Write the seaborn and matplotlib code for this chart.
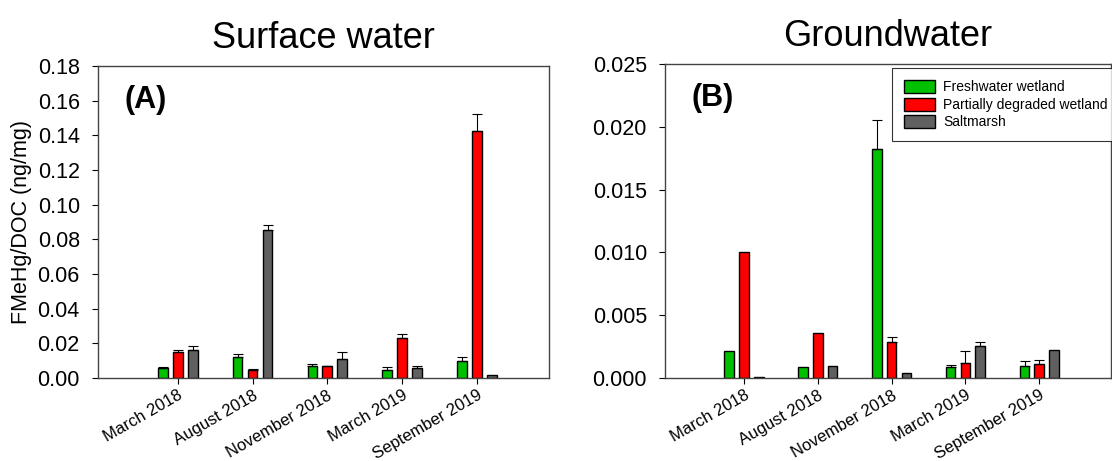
import numpy as np
import pandas as pd
import matplotlib
matplotlib.use("Agg")
import matplotlib.pyplot as plt
import seaborn as sns

months = ["March 2018", "August 2018", "November 2018", "March 2019", "September 2019"]
sites = ["Freshwater wetland", "Partially degraded wetland", "Saltmarsh"]
colors = ["#00C000", "#FF0000", "#606060"]

# Surface water
sw_fresh = [0.0057, 0.0122, 0.0071, 0.0048, 0.0099]
sw_fresh_err = [0.0008, 0.0014, 0.0007, 0.0013, 0.0020]
sw_partial = [0.0149, 0.0048, 0.0067, 0.0233, 0.1423]
sw_partial_err = [0.0010, 0.0002, 0.0002, 0.0021, 0.0102]
sw_salt = [0.0163, 0.0855, 0.0109, 0.0057, 0.0019]
sw_salt_err = [0.0024, 0.0029, 0.0040, 0.0010, 0.0]

# Groundwater
gw_fresh = [0.00212, 0.00087, 0.01826, 0.00087, 0.00095]
gw_fresh_err = [0.0, 0.0, 0.00227, 0.00013, 0.00037]
gw_partial = [0.0100, 0.00357, 0.00286, 0.00122, 0.00111]
gw_partial_err = [0.0, 0.0, 0.00037, 0.00092, 0.00032]
gw_salt = [0.00005, 0.00095, 0.00042, 0.00254, 0.00225]
gw_salt_err = [0.0, 0.0, 0.0, 0.00032, 0.0]

sns.set_theme(style="ticks")
plt.rcParams["font.family"] = ["Liberation Sans", "DejaVu Sans"]
plt.rcParams["text.color"] = "black"
plt.rcParams["axes.labelcolor"] = "black"

fig = plt.figure(figsize=(11.12, 4.61), dpi=100)
axA = fig.add_axes([0.088, 0.180, 0.406, 0.677])
axB = fig.add_axes([0.598, 0.180, 0.401, 0.681])


def make_df(vals, errs):
    rows = []
    for s, v, e in zip(sites, vals, errs):
        for m, vv, ee in zip(months, v, e):
            rows.append({"month": m, "site": s, "value": vv, "err": ee})
    return pd.DataFrame(rows)


def draw(ax, df, ylim, yticks, fmt, title, label, legend):
    sns.barplot(data=df, x="month", y="value", hue="site", order=months,
                hue_order=sites, palette=colors, width=0.6, gap=0.35,
                edgecolor="black", linewidth=1.0, ax=ax, legend=legend,
                errorbar=None, saturation=1)
    for si, s in enumerate(sites):
        sub = df[df.site == s].set_index("month").loc[months]
        for mi, m in enumerate(months):
            p = ax.containers[si][mi]
            x = p.get_x() + p.get_width() / 2
            v = sub.loc[m, "value"]
            e = sub.loc[m, "err"]
            if e > 0:
                ax.errorbar(x, v, yerr=[[0], [e]], fmt="none", ecolor="black",
                            elinewidth=0.8, capsize=3.5, capthick=0.8, zorder=3)
    ax.set_xlim(-1.07, 4.97)
    ax.set_ylim(*ylim)
    ax.set_yticks(yticks)
    ax.set_yticklabels([fmt.format(t) for t in yticks], fontsize=15.5)
    ax.set_xlabel("")
    ax.set_ylabel("")
    ax.set_xticks(range(len(months)))
    ax.set_xticklabels(months, rotation=30, ha="right", rotation_mode="anchor", fontsize=12)
    ax.tick_params(axis="x", direction="out", length=4, width=0.8,
                   colors="black", pad=3)
    ax.tick_params(axis="y", direction="out", length=4, width=0.8,
                   colors="black", pad=9)
    for sp in ax.spines.values():
        sp.set_visible(True)
        sp.set_color("#444444")
        sp.set_linewidth(1.0)
    ax.set_title(title, fontsize=26, pad=13, color="black")
    ax.text(0.06, 0.865, label, transform=ax.transAxes, fontsize=22,
            fontweight="bold", va="baseline", color="black")


dfA = make_df([sw_fresh, sw_partial, sw_salt], [sw_fresh_err, sw_partial_err, sw_salt_err])
dfB = make_df([gw_fresh, gw_partial, gw_salt], [gw_fresh_err, gw_partial_err, gw_salt_err])

draw(axA, dfA, (0, 0.18), np.arange(0, 0.181, 0.02), "{:.2f}", "Surface water", "(A)", False)
draw(axB, dfB, (0, 0.025), np.arange(0, 0.0251, 0.005), "{:.3f}", "Groundwater", "(B)", True)
axA.set_ylabel("FMeHg/DOC (ng/mg)", fontsize=15.5, labelpad=4)

leg = axB.legend(loc="upper left", bbox_to_anchor=(0.51, 0.987), fontsize=10,
                 frameon=True, fancybox=False, edgecolor="black", handlelength=2.2,
                 handleheight=1.05, labelspacing=0.25, borderpad=0.85,
                 handletextpad=0.6, borderaxespad=0)
leg.get_frame().set_linewidth(0.8)
leg.set_title(None)

fig.savefig("out.png", dpi=100)
